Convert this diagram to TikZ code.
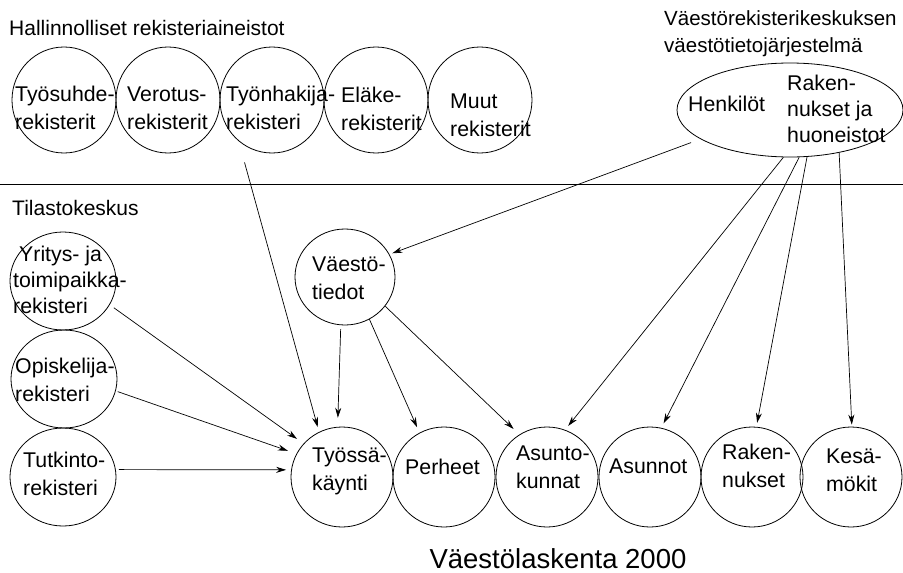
\documentclass[tikz,border=0pt]{standalone}
\usepackage{fontspec}
\setmainfont{Liberation Sans}
\usetikzlibrary{arrows.meta,shapes.geometric}
\begin{document}
\begin{tikzpicture}[x=1pt,y=-1pt,
  reg/.style={draw, ellipse, inner sep=0pt, line width=0.8pt},
  topreg/.style={reg, minimum width=104pt, minimum height=106pt},
  leftreg/.style={reg, minimum width=106pt, minimum height=98pt},
  botreg/.style={reg, minimum width=102pt, minimum height=100pt},
  lbl/.style={anchor=west, align=left, inner sep=0pt, font=\fontsize{21.3}{28}\selectfont},
  head/.style={anchor=west, align=left, inner sep=0pt, font=\fontsize{21}{27}\selectfont},
  conn/.style={-{Stealth[length=10pt,width=6pt]}, line width=0.7pt},
]
\useasboundingbox (0,0) rectangle (903,573);

% headers
\node[head] (hdr1) at (9,28) {Hallinnolliset rekisteriaineistot};
\node[head] (hdr2) at (12,208) {Tilastokeskus};
\node[head, font=\fontsize{20.5}{27}\selectfont] (hdr3) at (664,34) {Väestörekisterikeskuksen\\väestötietojärjestelmä};
\node[font=\fontsize{27.5}{32}\selectfont, inner sep=0pt] (title) at (558,559) {Väestölaskenta 2000};

% separator
\coordinate (sepL) at (0,184);
\coordinate (sepR) at (903,184);
\draw[line width=0.8pt] (sepL) -- (sepR);

% top row
\node[topreg] (tyosuhde) at (64,100) {};
\node[topreg] (verotus) at (168,100) {};
\node[topreg] (tyonhakija) at (272,100) {};
\node[topreg] (elake) at (376,100) {};
\node[topreg] (muut) at (480,100) {};
\node[lbl] (tyosuhde-t) at (15,108) {Työsuhde-\\rekisterit};
\node[lbl] (verotus-t) at (127,108) {Verotus-\\rekisterit};
\node[lbl] (tyonhakija-t) at (226,108) {Työnhakija-\\rekisteri};
\node[lbl] (elake-t) at (341,109) {Eläke-\\rekisterit};
\node[lbl] (muut-t) at (450,115) {Muut\\rekisterit};

% VRK ellipse
\node[reg, minimum width=226pt, minimum height=94pt] (vrk) at (790,110) {};
\node[lbl] (henk-t) at (688,104) {Henkilöt};
\node[lbl, font=\fontsize{21.3}{26}\selectfont] (rak-t0) at (787,109) {Raken-\\nukset ja\\huoneistot};

% left column
\node[leftreg] (yritys) at (63,281) {};
\node[leftreg] (opisk) at (64,379) {};
\node[leftreg] (tutk) at (63,477) {};
\node[lbl, font=\fontsize{21.3}{26}\selectfont] (yritys-t) at (13,280) {\hspace{6pt}Yritys- ja\\toimipaikka-\\rekisteri};
\node[lbl] (opisk-t) at (15,380) {Opiskelija-\\rekisteri};
\node[lbl] (tutk-t) at (23,474) {Tutkinto-\\rekisteri};

% Vaestotiedot
\node[reg, minimum width=100pt, minimum height=96pt] (vt) at (345,277) {};
\node[lbl] (vt-t) at (312,278) {Väestö-\\tiedot};

% bottom row
\node[botreg] (tyossa) at (342,477) {};
\node[botreg] (perheet) at (444,477) {};
\node[botreg] (asuntok) at (547,477) {};
\node[botreg] (asunnot) at (650,477) {};
\node[botreg] (rak) at (752,477) {};
\node[botreg] (kesa) at (851,477) {};
\node[lbl] (tyossa-t) at (312,471) {Työssä-\\käynti};
\node[lbl] (perheet-t) at (405,467) {Perheet};
\node[lbl] (asuntok-t) at (516,467) {Asunto-\\kunnat};
\node[lbl] (asunnot-t) at (609,466) {Asunnot};
\node[lbl] (rak-t) at (722,466) {Raken-\\nukset};
\node[lbl] (kesa-t) at (826,470) {Kesä-\\mökit};

% connectors
\draw[conn, shorten <=22pt, shorten >=5pt] (tyonhakija.231) -- (tyossa.117);
\draw[conn, shorten <=10pt, shorten >=3pt] (vrk.198) -- (vt.27);
\draw[conn, shorten >=5pt] (vrk.262) -- (asuntok.69);
\draw[conn, shorten >=5pt] (vrk.281) -- (asunnot.77);
\draw[conn, shorten >=4pt] (vrk.290) -- (rak.85);
\draw[conn, shorten >=2pt] (vrk.319) -- (kesa.89);
\draw[conn, shorten <=4pt, shorten >=9pt] (vt.265) -- (tyossa.95);
\draw[conn, shorten >=6pt] (vt.300) -- (perheet.119);
\draw[conn, shorten >=8pt] (vt.324) -- (asuntok.123);
\draw[conn, shorten <=5pt, shorten >=8pt] (yritys.333) -- (tyossa.139);
\draw[conn, shorten <=2pt, shorten >=9pt] (opisk.347) -- (tyossa.153);
\draw[conn, shorten <=3pt, shorten >=5pt] (tutk.8) -- (tyossa.172);
\end{tikzpicture}
\end{document}
